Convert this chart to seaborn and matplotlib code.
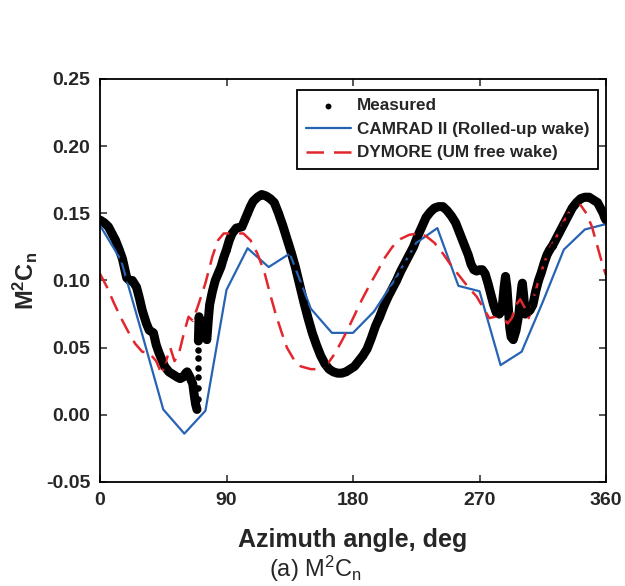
import numpy as np
import pandas as pd
import matplotlib
matplotlib.use("Agg")
import matplotlib.pyplot as plt
from matplotlib.ticker import FormatStrFormatter
import seaborn as sns

# ---------------- data ----------------
# Measured (dense trace, segment 1: 0 -> 69 deg)
meas1_az = [0, 3, 6, 9, 11, 14, 16, 19, 21, 23, 26, 28, 30, 33, 35, 38, 40, 42, 44, 46,
            49, 52, 55, 57, 59, 61, 62, 64, 66, 67, 68, 69]
meas1_val = [0.145, 0.143, 0.140, 0.134, 0.130, 0.122, 0.116, 0.102, 0.100, 0.100, 0.095,
             0.087, 0.078, 0.068, 0.063, 0.061, 0.052, 0.046, 0.041, 0.036, 0.032, 0.030,
             0.028, 0.027, 0.028, 0.031, 0.032, 0.028, 0.023, 0.015, 0.008, 0.004]
# Measured sparse points in the jump near 69-70 deg
jump_az = [69.4, 69.6, 69.7, 69.8, 69.9, 70.0]
jump_val = [0.012, 0.020, 0.028, 0.035, 0.042, 0.048]
# Measured (dense trace, segment 2: 70 -> 360 deg)
meas2_az = [70, 70.5, 71.5, 72.5, 73.5, 75, 76, 77, 78, 80, 82, 84, 86, 88, 90, 92, 94, 97,
            101, 103, 105, 107, 109, 112, 115, 118, 121, 124, 127, 130, 133, 136, 139, 142,
            145, 148, 151, 154, 157, 160, 163, 166, 169, 172, 175, 178, 181, 184, 187, 190,
            193, 196, 199, 202, 205, 208, 211, 214, 217, 220, 223, 226, 229, 232, 235, 238,
            241, 244, 247, 250, 253, 256, 259, 262, 264, 266, 268, 270, 272, 274, 276, 278,
            280, 282, 284, 286, 287.5, 288.5, 289.5, 290.5, 291.5, 292.5, 294, 296, 298, 300,
            300.5, 301.5, 302.5, 304, 306, 308, 310, 312, 314, 316, 318, 320, 322, 324, 327,
            330, 333, 336, 339, 342, 345, 348, 351, 354, 356, 358, 359, 360]
meas2_val = [0.055, 0.073, 0.065, 0.060, 0.066, 0.058, 0.056, 0.070, 0.082, 0.092, 0.100,
             0.105, 0.110, 0.117, 0.123, 0.130, 0.135, 0.139, 0.140, 0.145, 0.150, 0.155,
             0.159, 0.162, 0.164, 0.163, 0.161, 0.158, 0.150, 0.141, 0.131, 0.121, 0.110,
             0.097, 0.084, 0.072, 0.061, 0.052, 0.044, 0.038, 0.034, 0.032, 0.031, 0.031,
             0.032, 0.034, 0.036, 0.040, 0.044, 0.049, 0.057, 0.066, 0.073, 0.081, 0.088,
             0.094, 0.100, 0.107, 0.113, 0.119, 0.125, 0.133, 0.140, 0.147, 0.151, 0.154,
             0.155, 0.155, 0.152, 0.148, 0.143, 0.135, 0.127, 0.119, 0.112, 0.108, 0.107,
             0.108, 0.108, 0.105, 0.098, 0.090, 0.082, 0.076, 0.075, 0.078, 0.095, 0.103,
             0.095, 0.080, 0.065, 0.058, 0.056, 0.063, 0.075, 0.095, 0.098, 0.088, 0.075,
             0.076, 0.078, 0.082, 0.092, 0.100, 0.106, 0.113, 0.119, 0.123, 0.126, 0.130,
             0.136, 0.142, 0.148, 0.154, 0.158, 0.161, 0.162, 0.162, 0.160, 0.158, 0.154,
             0.150, 0.147, 0.145]

# CAMRAD II (Rolled-up wake)
camrad_az = [0, 15, 30, 45, 60, 75, 90, 105, 120, 135, 150, 165, 180, 195, 210, 225, 240,
             255, 270, 285, 300, 315, 330, 345, 360]
camrad_val = [0.141, 0.115, 0.060, 0.004, -0.014, 0.003, 0.093, 0.124, 0.110, 0.120, 0.079,
              0.061, 0.061, 0.077, 0.101, 0.128, 0.139, 0.096, 0.092, 0.037, 0.047, 0.084,
              0.123, 0.138, 0.142]

# DYMORE (UM free wake)
dymore_az = [0, 5, 10, 15, 20, 25, 30, 35, 40, 44, 47, 50, 53, 56, 60, 63, 66, 70, 75, 80,
             84, 88, 95, 102, 107, 112, 117, 121, 125, 129, 133, 138, 143, 150, 157, 162,
             166, 171, 176, 181, 186, 192, 198, 202, 208, 214, 220, 226, 232, 238, 244, 250,
             256, 262, 268, 273, 277, 281, 284, 287, 290, 293, 296, 299, 302, 305, 308, 312,
             316, 320, 325, 330, 335, 339, 342, 346, 350, 354, 358, 360]
dymore_val = [0.105, 0.095, 0.083, 0.072, 0.062, 0.053, 0.047, 0.046, 0.040, 0.030, 0.040,
              0.050, 0.040, 0.045, 0.062, 0.073, 0.070, 0.082, 0.098, 0.118, 0.130, 0.135,
              0.135, 0.135, 0.130, 0.120, 0.106, 0.090, 0.075, 0.062, 0.050, 0.041, 0.036,
              0.034, 0.034, 0.038, 0.044, 0.053, 0.063, 0.074, 0.085, 0.097, 0.108, 0.116,
              0.125, 0.131, 0.134, 0.135, 0.133, 0.128, 0.120, 0.111, 0.103, 0.095, 0.088,
              0.079, 0.072, 0.073, 0.074, 0.072, 0.068, 0.072, 0.082, 0.086, 0.080, 0.072,
              0.085, 0.100, 0.113, 0.124, 0.133, 0.144, 0.153, 0.157, 0.156, 0.150, 0.140,
              0.125, 0.110, 0.104]

x_ticks = [0, 90, 180, 270, 360]
y_ticks = [-0.05, 0.00, 0.05, 0.10, 0.15, 0.20, 0.25]

# ---------------- style ----------------
sns.set_style("ticks")
plt.rcParams["font.family"] = ["Liberation Sans", "DejaVu Sans"]
plt.rcParams["mathtext.fontset"] = "custom"
plt.rcParams["mathtext.rm"] = "Liberation Sans"
plt.rcParams["mathtext.bf"] = "Liberation Sans:bold"
plt.rcParams["mathtext.it"] = "Liberation Sans:italic"
plt.rcParams["axes.unicode_minus"] = False

BLUE = "#2763b3"
RED = "#e3262d"
DASH = (6.5, 3.5)

fig = plt.figure(figsize=(6.25, 5.86), dpi=100)
ax = fig.add_axes([0.16, 0.1775, 0.8096, 0.6877])

meas_df = pd.DataFrame({
    "az": meas1_az + meas2_az,
    "val": meas1_val + meas2_val,
    "seg": [1] * len(meas1_az) + [2] * len(meas2_az),
})
sns.lineplot(data=meas_df, x="az", y="val", units="seg", estimator=None, sort=False,
             color="black", lw=6.5, solid_capstyle="round", solid_joinstyle="round",
             legend=False, ax=ax)
all_df = pd.DataFrame({"az": meas1_az + jump_az + meas2_az,
                       "val": meas1_val + jump_val + meas2_val})
sns.scatterplot(data=all_df, x="az", y="val", color="black", s=22, linewidth=0,
                label="Measured", ax=ax, zorder=3)

sns.lineplot(x=camrad_az, y=camrad_val, color=BLUE, lw=1.6, sort=False,
             label="CAMRAD II (Rolled-up wake)", ax=ax)
sns.lineplot(x=dymore_az, y=dymore_val, color=RED, lw=1.8, sort=False,
             label="DYMORE (UM free wake)", ax=ax)
ax.lines[-1].set_dashes(DASH)

ax.set_xlim(0, 360)
ax.set_ylim(-0.05, 0.25)
ax.set_xticks(x_ticks)
ax.set_yticks(y_ticks)
ax.yaxis.set_major_formatter(FormatStrFormatter("%.2f"))
ax.tick_params(direction="in", length=5, width=1.1, top=True, right=True,
               labelsize=14, pad=7)
for lab in ax.get_xticklabels() + ax.get_yticklabels():
    lab.set_fontweight("bold")
for sp in ax.spines.values():
    sp.set_visible(True)
    sp.set_linewidth(1.3)
    sp.set_color("black")

ax.set_xlabel("Azimuth angle, deg", fontsize=18, fontweight="bold", labelpad=14)
ax.set_ylabel(r"$\mathbf{M^2C_n}$", fontsize=17, labelpad=4)

# legend
handles, labels = ax.get_legend_handles_labels()
leg = ax.legend(handles, labels, loc="upper right", bbox_to_anchor=(0.984, 0.973),
                borderaxespad=0, frameon=True, fancybox=False, framealpha=1,
                edgecolor="black", prop={"weight": "bold", "size": 12.3},
                handlelength=2.65, handletextpad=0.35, labelspacing=0.5,
                borderpad=0.5, markerscale=0.9)
leg.get_frame().set_linewidth(1.3)
leg_lines = leg.get_lines()
if leg_lines:
    leg_lines[-1].set_dashes((7.0, 4.0))

fig.text(0.504, 0.029, r"(a) M$^\mathrm{2}$C$_\mathrm{n}$", fontsize=17,
         ha="center", va="center")

fig.savefig("out.png", dpi=100)
